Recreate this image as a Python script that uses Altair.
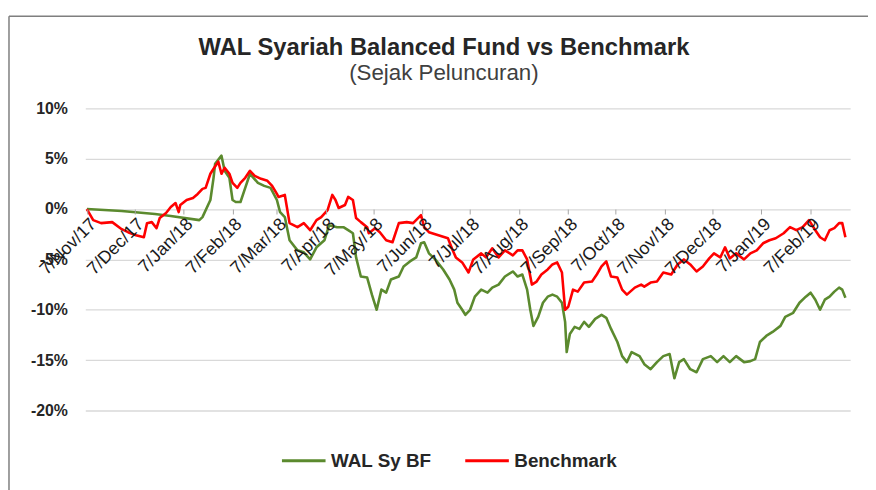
import altair as alt
import pandas as pd

# ---------------- data ----------------
launch_date = "2017-11-07"
series_names = ["WAL Sy BF", "Benchmark"]
series_colors = ["#5b8a2e", "#ff0000"]

# days since launch / cumulative return in %
wal_days = [0, 22, 43, 53, 71, 73, 78, 80, 81, 85,
            87, 90, 92, 94, 97, 100, 103, 108, 112, 116,
            120, 122, 125, 128, 133, 137, 141, 145, 150, 153,
            158, 162, 165, 168, 170, 173, 177, 180, 183, 186,
            189, 192, 197, 200, 204, 208, 211, 213, 216, 220,
            225, 229, 232, 234, 237, 239, 242, 245, 249, 253,
            256, 260, 264, 269, 272, 275, 278, 280, 282, 285,
            288, 291, 294, 297, 300, 302, 303, 305, 308, 311,
            314, 317, 321, 325, 328, 331, 335, 338, 341, 344,
            349, 352, 356, 360, 364, 368, 371, 374, 377, 381,
            385, 389, 394, 398, 402, 406, 410, 415, 419, 422,
            425, 429, 433, 438, 441, 446, 450, 454, 457, 460,
            463, 466, 469, 472, 475, 477, 479]
wal_returns = [0.0, -0.2, -0.5, -0.7, -1.1, -0.8, 0.9, 3.1, 4.5, 5.3,
               3.8, 3.1, 0.9, 0.7, 0.7, 2.1, 3.5, 2.6, 2.3, 2.1,
               0.9, -0.3, -0.8, -3.1, -4.1, -4.3, -5.0, -3.8, -3.1, -1.6,
               -1.8, -1.8, -2.1, -2.4, -4.8, -6.7, -6.8, -8.5, -10.0, -8.0,
               -8.3, -7.0, -6.7, -5.7, -5.2, -4.8, -3.4, -3.3, -4.4, -5.0,
               -6.0, -7.0, -8.0, -9.3, -10.0, -10.5, -10.0, -8.7, -8.0, -8.3,
               -7.8, -7.5, -6.7, -6.2, -6.7, -6.5, -8.0, -10.0, -11.6, -10.7,
               -9.3, -8.7, -8.5, -8.7, -9.3, -11.2, -14.2, -12.4, -11.7, -11.9,
               -11.2, -11.7, -10.9, -10.5, -10.8, -11.9, -13.2, -14.6, -15.2, -14.2,
               -14.6, -15.4, -15.9, -15.2, -14.6, -14.4, -16.8, -15.2, -14.9, -15.9,
               -16.2, -14.9, -14.6, -15.2, -14.6, -15.2, -14.6, -15.2, -15.1, -14.9,
               -13.2, -12.6, -12.2, -11.6, -10.7, -10.3, -9.3, -8.7, -8.3, -9.0,
               -10.0, -9.0, -8.7, -8.2, -7.8, -8.0, -8.8]

bm_days = [0, 4, 9, 16, 22, 26, 31, 36, 38, 41,
           44, 46, 50, 53, 56, 58, 59, 63, 67, 70,
           73, 75, 78, 80, 83, 85, 87, 90, 92, 95,
           97, 100, 103, 106, 110, 114, 117, 120, 121, 125,
           128, 133, 137, 141, 145, 148, 152, 155, 157, 159,
           163, 165, 168, 170, 173, 177, 178, 182, 185, 189,
           193, 197, 202, 206, 211, 213, 216, 222, 228, 231,
           233, 237, 241, 244, 249, 252, 256, 260, 264, 269,
           272, 275, 278, 281, 284, 287, 291, 294, 297, 300,
           302, 304, 307, 310, 314, 319, 322, 325, 328, 331,
           335, 338, 341, 346, 350, 352, 356, 360, 364, 369,
           373, 377, 381, 385, 389, 393, 396, 400, 403, 406,
           410, 415, 419, 423, 427, 431, 435, 440, 444, 448,
           452, 456, 460, 463, 466, 469, 472, 475, 477, 479]
bm_returns = [0.0, -1.1, -1.4, -1.3, -2.0, -2.3, -2.6, -2.8, -1.4, -1.3,
              -1.9, -0.9, -0.4, 0.2, 0.6, -0.3, 0.4, 0.9, 1.1, 1.5,
              2.0, 2.1, 3.5, 4.0, 4.7, 3.5, 4.1, 3.5, 2.6, 2.1,
              2.6, 3.1, 3.8, 3.3, 3.0, 2.8, 2.3, 1.5, 1.2, 1.4,
              -1.4, -1.8, -1.4, -2.1, -1.1, -0.8, -0.1, 1.4, 0.9, 0.1,
              0.4, 1.2, 0.9, -0.9, -1.3, -1.8, -2.4, -1.9, -2.3, -3.1,
              -3.3, -1.4, -1.3, -1.4, -0.6, -1.8, -2.3, -2.6, -2.9, -4.1,
              -4.8, -5.3, -6.3, -5.0, -4.4, -4.8, -3.9, -4.8, -4.1, -4.6,
              -4.1, -4.1, -5.0, -7.5, -7.2, -6.5, -6.0, -5.5, -5.3, -6.3,
              -10.0, -9.7, -8.0, -8.2, -7.3, -7.2, -6.5, -5.7, -5.2, -6.7,
              -6.8, -8.0, -8.5, -7.8, -7.5, -7.7, -7.3, -7.2, -6.3, -6.5,
              -5.5, -5.0, -5.5, -6.2, -5.7, -4.9, -4.4, -4.8, -3.8, -4.9,
              -4.4, -5.0, -4.4, -4.1, -3.4, -3.1, -2.9, -2.4, -1.8, -2.1,
              -1.8, -1.1, -2.1, -2.8, -3.1, -2.1, -1.9, -1.4, -1.4, -2.8]

y_tick_values = [10, 5, 0, -5, -10, -15, -20]
x_tick_months = [(2017, 11), (2017, 12), (2018, 1), (2018, 2), (2018, 3),
                 (2018, 4), (2018, 5), (2018, 6), (2018, 7), (2018, 8),
                 (2018, 9), (2018, 10), (2018, 11), (2018, 12), (2019, 1),
                 (2019, 2)]

title_text = "WAL Syariah Balanced Fund vs Benchmark"
subtitle_text = "(Sejak Peluncuran)"

# ---------------- build table ----------------
start = pd.Timestamp(launch_date)
df = pd.concat([
    pd.DataFrame({"date": start + pd.to_timedelta(wal_days, unit="D"),
                  "value": wal_returns, "series": series_names[0]}),
    pd.DataFrame({"date": start + pd.to_timedelta(bm_days, unit="D"),
                  "value": bm_returns, "series": series_names[1]}),
], ignore_index=True)

FONT = "Liberation Sans, Arial, sans-serif"
TXT = "#262626"

x_enc = alt.X(
    "date:T", title=None,
    scale=alt.Scale(domain=[alt.DateTime(year=2017, month=11, date=6),
                            alt.DateTime(year=2019, month=3, date=4)]),
    axis=alt.Axis(values=[alt.DateTime(year=y, month=m, date=7) for y, m in x_tick_months],
                  format="%-d/%b/%y", labelAngle=-45, labelAlign="right",
                  labelBaseline="top", labelFontSize=18, labelFont=FONT,
                  labelColor="#1a1a1a", labelPadding=1, labelOverlap=False,
                  labelFlush=False, domain=False, grid=False, ticks=True,
                  tickColor="#a6a6a6", tickSize=5, offset=-203.33, zindex=1),
)
y_enc = alt.Y(
    "value:Q", title=None,
    scale=alt.Scale(domain=[-20, 10], nice=False, zero=False),
    axis=alt.Axis(values=y_tick_values, labelExpr="datum.value + '%'",
                  labelFontSize=16, labelFontWeight="bold", labelFont=FONT,
                  labelColor=TXT, labelPadding=18, domain=False, ticks=False,
                  gridColor="#d9d9d9", gridWidth=1.3),
)
color_enc = alt.Color(
    "series:N",
    scale=alt.Scale(domain=series_names, range=series_colors),
    legend=alt.Legend(title=None, orient="none", legendX=197, legendY=332,
                      direction="horizontal", symbolType="stroke",
                      symbolSize=1936, symbolStrokeWidth=3, labelFontSize=19,
                      labelFontWeight="bold", labelFont=FONT, labelColor=TXT,
                      columnPadding=27, labelOffset=4, padding=0),
)

green = alt.Chart(df).transform_filter(alt.datum.series == series_names[0]).mark_line(
    strokeWidth=2.6, strokeJoin="round").encode(x=x_enc, y=y_enc, color=color_enc)
red = alt.Chart(df).transform_filter(alt.datum.series == series_names[1]).mark_line(
    strokeWidth=2.6, strokeJoin="round").encode(x=x_enc, y=y_enc, color=color_enc)

one = pd.DataFrame({"k": [0]})
frame_left = alt.Chart(one).mark_rule(color="#7f7f7f", strokeWidth=1.5).encode(
    x=alt.value(-77), y=alt.value(-93), y2=alt.value(400))
frame_top = alt.Chart(one).mark_rule(color="#7f7f7f", strokeWidth=1.5).encode(
    x=alt.value(-77), x2=alt.value(800), y=alt.value(-93))

title_mark = alt.Chart(pd.DataFrame({"t": [title_text]})).mark_text(
    font=FONT, fontSize=24, fontWeight="bold", color=TXT, align="center",
    baseline="alphabetic").encode(x=alt.value(362), y=alt.value(-54), text="t:N")
subtitle_mark = alt.Chart(pd.DataFrame({"t": [subtitle_text]})).mark_text(
    font=FONT, fontSize=22.5, color="#404040", align="center",
    baseline="alphabetic").encode(x=alt.value(362), y=alt.value(-29), text="t:N")

chart = alt.layer(frame_left, frame_top, title_mark, subtitle_mark, green, red).properties(
    width=772, height=305,
    padding={"left": 78, "top": 99, "right": 18, "bottom": 78},
    autosize=alt.AutoSizeParams(type="none"),
).configure_view(stroke=None)

chart.save("out.html", embed_options={"renderer": "svg", "actions": False})
